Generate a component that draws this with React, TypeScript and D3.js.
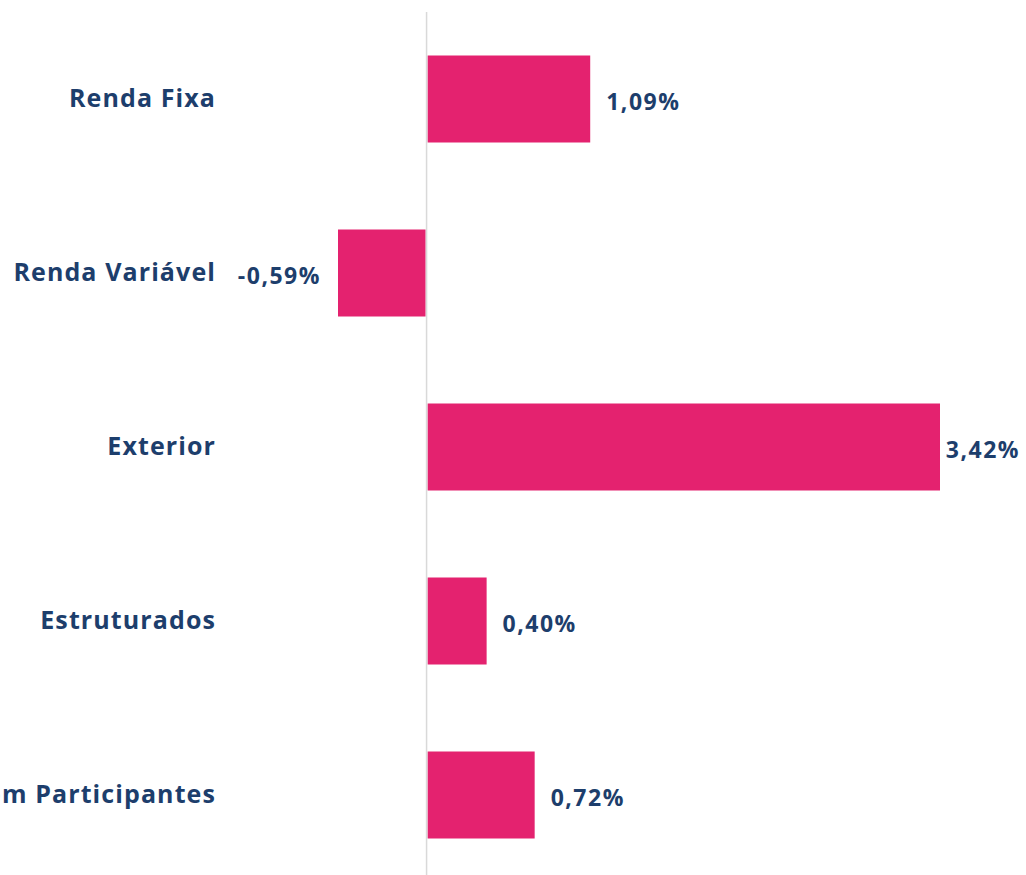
import React from 'react';
import * as d3 from 'd3';

const categories = ['Renda Fixa', 'Renda Variável', 'Exterior', 'Estruturados', 'Operações com Participantes'];
const values = [1.09, -0.59, 3.42, 0.40, 0.72];
const valueLabels = ['1,09%', '-0,59%', '3,42%', '0,40%', '0,72%'];

const W = 1026;
const H = 875;
const navy = '#1d3e6c';
const pink = '#e4226f';
const font = '"Open Sans", Lato, sans-serif';

export default function App() {
  const x = d3.scaleLinear().domain([-0.59, 3.42]).range([338, 940]);
  const y = d3.scaleBand<string>().domain(categories).range([12, 882]).paddingInner(0.5).paddingOuter(0.25);
  const x0 = x(0);

  return (
    <div style={{ position: 'absolute', left: 0, top: 0 }}>
      <svg width={W} height={H} style={{ display: 'block' }}>
        <rect width={W} height={H} fill="#fff" />
        {categories.map((c, i) => {
          const v = values[i];
          const yy = y(c)!;
          const bw = y.bandwidth();
          const x1 = Math.min(x(v), x0);
          const x2 = Math.max(x(v), x0);
          const cy = yy + bw / 2;
          let lx = v >= 0 ? x2 + 16 : x1 - 17;
          let anchor = v >= 0 ? 'start' : 'end';
          if (v >= 0 && lx + 76 > W - 6) {
            lx = W - 6;
            anchor = 'end';
          }
          return (
            <g key={c}>
              <rect x={x1 + (v >= 0 ? 1 : 0)} y={yy} width={x2 - x1 - 1} height={bw} fill={pink} />
              <text x={216} y={cy - 1} dy="0.35em" textAnchor="end" fill={navy}
                fontFamily={font} fontWeight={700} fontSize={25} letterSpacing={1.1}>{c}</text>
              <text x={lx} y={cy + 3} dy="0.35em" textAnchor={anchor} fill={navy}
                fontFamily={font} fontWeight={700} fontSize={23} letterSpacing={1.5}>{valueLabels[i]}</text>
            </g>
          );
        })}
        <line x1={x0} x2={x0} y1={12} y2={H} stroke="#d9d9d9" strokeWidth={1.5} />
      </svg>
    </div>
  );
}
